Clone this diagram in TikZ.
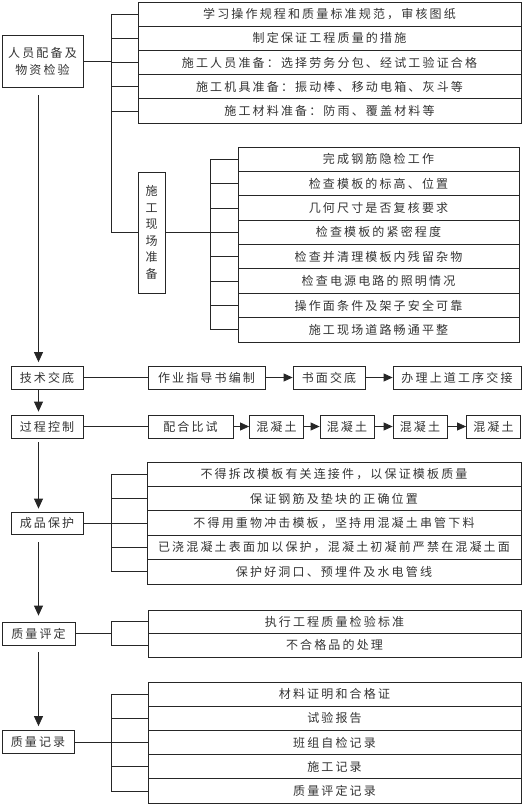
\documentclass[tikz,border=0pt]{standalone}
\usepackage{fontspec}
\newfontfamily\cjk[LetterSpace=18]{Noto Sans CJK SC}
\usetikzlibrary{arrows.meta}
\begin{document}
\begin{tikzpicture}[x=1pt,y=-1pt,
  line width=0.8pt,
  every node/.style={font=\cjk\fontsize{12}{16.5}\selectfont, text=black!80, inner sep=0pt},
  box/.style={draw=black!85, rectangle},
  link/.style={draw=black!85},
  arr/.style={draw=black!85,-{Triangle[width=9pt,length=10pt]}},
  harr/.style={draw=black!85,-{Triangle[width=8pt,length=9pt]}},
]
\useasboundingbox (0,0) rectangle (523,804);
\coordinate (bx1) at (111,0);
\coordinate (bx2) at (210,0);
\coordinate (sp) at (38.5,0);

% ---------- top group
\node[box, minimum width=81, minimum height=52, align=center, font=\cjk\fontsize{12}{17}\selectfont] (ry) at (42.5,61) {人员配备及\\物资检验};
\node[box, minimum width=383, minimum height=24.2] (t1) at (329.5,14.1) {学习操作规程和质量标准规范，审核图纸};
\node[box, minimum width=383, minimum height=24.2] (t2) at (329.5,38.3) {制定保证工程质量的措施};
\node[box, minimum width=383, minimum height=24.2] (t3) at (329.5,62.5) {施工人员准备：选择劳务分包、经试工验证合格};
\node[box, minimum width=383, minimum height=24.2] (t4) at (329.5,86.7) {施工机具准备：振动棒、移动电箱、灰斗等};
\node[box, minimum width=383, minimum height=24.2] (t5) at (329.5,110.9) {施工材料准备：防雨、覆盖材料等};
\node[box, minimum width=27, minimum height=121, align=center] (sg) at (151.5,232.5) {施\\工\\现\\场\\准\\备};
\draw[link] (ry.east) -- (ry.east -| bx1);
\foreach \n in {t1,t2,t3,t4,t5} \draw[link] (\n.west) -- (\n.west -| bx1);
\draw[link] (t1.west -| bx1) |- (sg.west);

% ---------- site preparation group
\node[box, minimum width=281, minimum height=24.375] (s1) at (378.5,159.19) {完成钢筋隐检工作};
\node[box, minimum width=281, minimum height=24.375] (s2) at (378.5,183.56) {检查模板的标高、位置};
\node[box, minimum width=281, minimum height=24.375] (s3) at (378.5,207.94) {几何尺寸是否复核要求};
\node[box, minimum width=281, minimum height=24.375] (s4) at (378.5,232.31) {检查模板的紧密程度};
\node[box, minimum width=281, minimum height=24.375] (s5) at (378.5,256.69) {检查并清理模板内残留杂物};
\node[box, minimum width=281, minimum height=24.375] (s6) at (378.5,281.06) {检查电源电路的照明情况};
\node[box, minimum width=281, minimum height=24.375] (s7) at (378.5,305.44) {操作面条件及架子安全可靠};
\node[box, minimum width=281, minimum height=24.375] (s8) at (378.5,329.81) {施工现场道路畅通平整};
\draw[link] (sg.east) -- (sg.east -| bx2);
\draw[link] (s1.west -| bx2) -- (s8.west -| bx2);
\foreach \n in {s1,s2,s3,s4,s5,s6,s7,s8} \draw[link] (\n.west) -- (\n.west -| bx2);

% ---------- technical briefing row
\node[box, minimum width=72, minimum height=23] (js) at (47,377.5) {技术交底};
\node[box, minimum width=117, minimum height=23] (zy) at (206.5,377.5) {作业指导书编制};
\node[box, minimum width=72, minimum height=23] (sm) at (329,377.5) {书面交底};
\node[box, minimum width=128, minimum height=23] (bl) at (457,377.5) {办理上道工序交接};
\draw[link] (js) -- (zy);
\draw[harr] (zy) -- (sm);
\draw[harr] (sm) -- (bl);

% ---------- process control row
\node[box, minimum width=72, minimum height=23] (gc) at (47,426.5) {过程控制};
\node[box, minimum width=85, minimum height=23] (ph) at (190.5,426.5) {配合比试};
\node[box, minimum width=54, minimum height=23] (h1) at (276.5,426.5) {混凝土};
\node[box, minimum width=54, minimum height=23] (h2) at (347,426.5) {混凝土};
\node[box, minimum width=54, minimum height=23] (h3) at (420,426.5) {混凝土};
\node[box, minimum width=54, minimum height=23] (h4) at (493.5,426.5) {混凝土};
\draw[link] (gc) -- (ph);
\draw[harr] (ph) -- (h1);
\draw[harr] (h1) -- (h2);
\draw[harr] (h2) -- (h3);
\draw[harr] (h3) -- (h4);

% ---------- product protection
\node[box, minimum width=72, minimum height=22] (cp) at (47,523) {成品保护};
\node[box, minimum width=374, minimum height=24.4] (p1) at (334,474.2) {不得拆改模板有关连接件，以保证模板质量};
\node[box, minimum width=374, minimum height=24.4] (p2) at (334,498.6) {保证钢筋及垫块的正确位置};
\node[box, minimum width=374, minimum height=24.4] (p3) at (334,523) {不得用重物冲击模板，坚持用混凝土串管下料};
\node[box, minimum width=374, minimum height=24.4] (p4) at (334,547.4) {已浇混凝土表面加以保护，混凝土初凝前严禁在混凝土面};
\node[box, minimum width=374, minimum height=24.4] (p5) at (334,571.8) {保护好洞口、预埋件及水电管线};
\draw[link] (cp.east) -- (cp.east -| bx1);
\draw[link] (p1.west -| bx1) -- (p5.west -| bx1);
\foreach \n in {p1,p2,p3,p4,p5} \draw[link] (\n.west) -- (\n.west -| bx1);

% ---------- quality evaluation
\node[box, minimum width=73, minimum height=23] (zp) at (38.5,633.5) {质量评定};
\node[box, minimum width=373, minimum height=23.5] (q1) at (334.5,621.75) {执行工程质量检验标准};
\node[box, minimum width=373, minimum height=23.5] (q2) at (334.5,645.25) {不合格品的处理};
\draw[link] (zp.east) -- (zp.east -| bx1);
\draw[link] (q1.west -| bx1) -- (q2.west -| bx1);
\foreach \n in {q1,q2} \draw[link] (\n.west) -- (\n.west -| bx1);

% ---------- quality records
\node[box, minimum width=72, minimum height=23] (zj) at (38,742) {质量记录};
\node[box, minimum width=373, minimum height=24.2] (r1) at (334.5,694.1) {材料证明和合格证};
\node[box, minimum width=373, minimum height=24.2] (r2) at (334.5,718.3) {试验报告};
\node[box, minimum width=373, minimum height=24.2] (r3) at (334.5,742.5) {班组自检记录};
\node[box, minimum width=373, minimum height=24.2] (r4) at (334.5,766.7) {施工记录};
\node[box, minimum width=373, minimum height=24.2] (r5) at (334.5,790.9) {质量评定记录};
\draw[link] (zj.east) -- (zj.east -| bx1);
\draw[link] (r1.west -| bx1) -- (r5.west -| bx1);
\foreach \n in {r1,r2,r3,r4,r5} \draw[link] (\n.west) -- (\n.west -| bx1);

% ---------- main spine
\draw[arr, shorten <=8pt, shorten >=3.5pt] (ry.south -| sp) -- (js.north -| sp);
\draw[arr, shorten >=3pt] (js.south -| sp) -- (gc.north -| sp);
\draw[arr, shorten <=4pt, shorten >=3pt] (gc.south -| sp) -- (cp.north -| sp);
\draw[arr, shorten <=8pt, shorten >=6pt] (cp.south -| sp) -- (zp.north -| sp);
\draw[arr, shorten <=7pt, shorten >=4pt] (zp.south -| sp) -- (zj.north -| sp);
\end{tikzpicture}
\end{document}
